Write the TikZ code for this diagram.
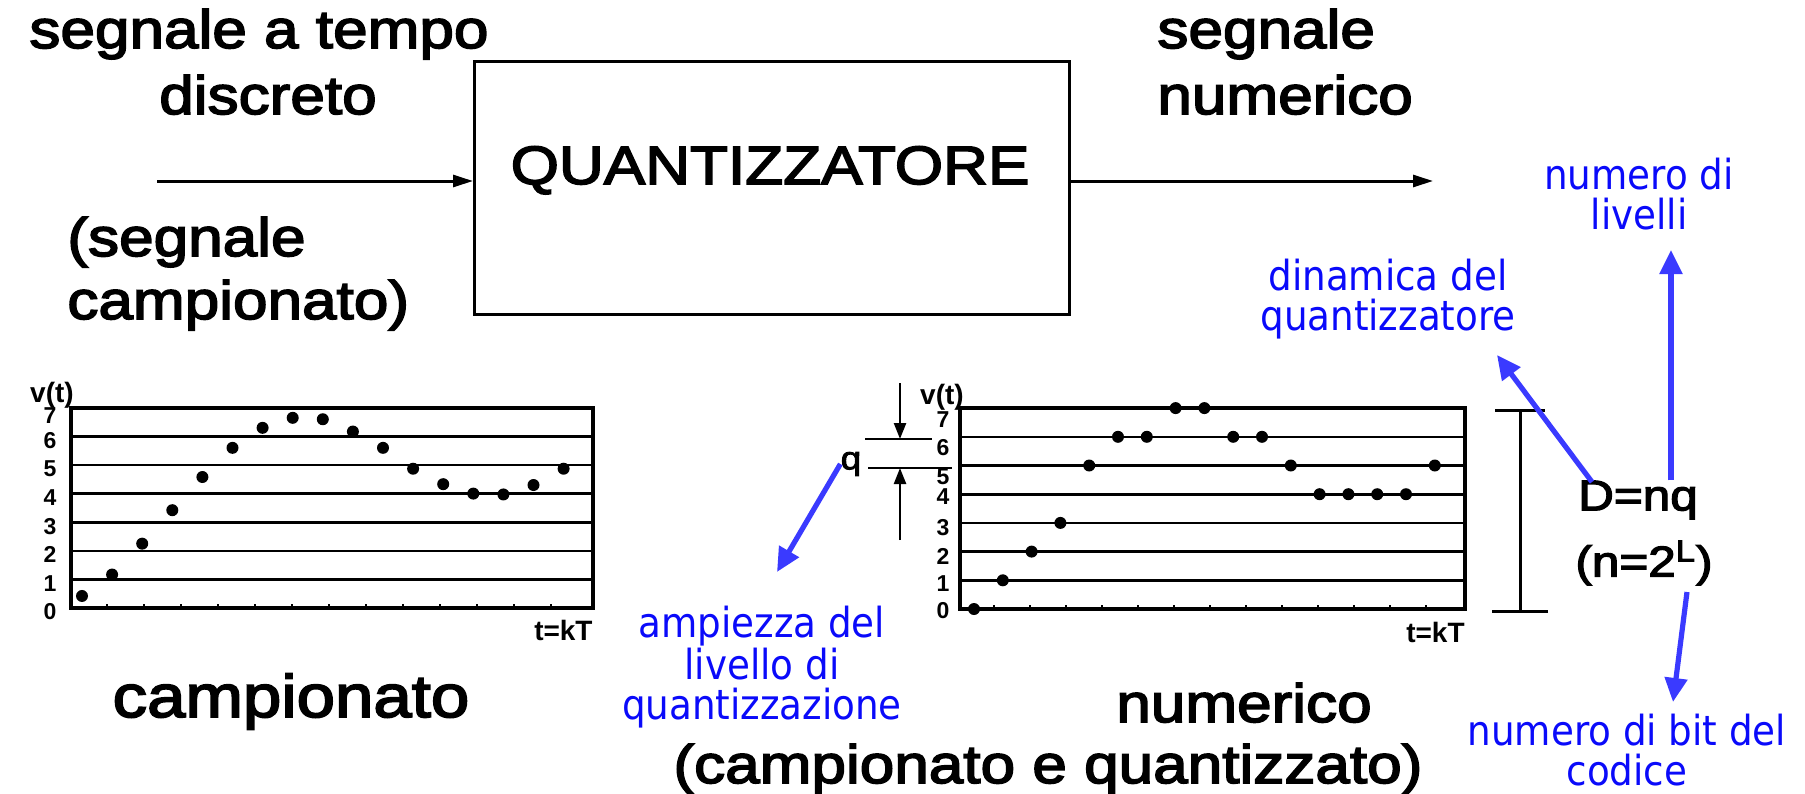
\documentclass[tikz,border=0pt]{standalone}
\usepackage{fontspec}
\setmainfont{Liberation Sans}
\newfontfamily\scanfont[FakeBold=3, FakeStretch=1.15]{Liberation Sans}
\newfontfamily\notefont{DejaVu Sans Condensed}
\usetikzlibrary{arrows.meta, positioning}

\definecolor{noteblue}{RGB}{10,10,250}
\definecolor{pointblue}{RGB}{58,58,255}

\begin{document}
\begin{tikzpicture}[x=0.5pt, y=-0.5pt,
    big/.style={font=\fontsize{27}{30}\selectfont\scanfont, inner sep=0pt},
    mid/.style={font=\fontsize{21.5}{24}\selectfont\scanfont, inner sep=0pt},
    axislbl/.style={font=\fontsize{14}{16}\selectfont\bfseries, inner sep=0pt},
    digit/.style={font=\fontsize{11.5}{13}\selectfont\bfseries, inner sep=0pt},
    note/.style={font=\fontsize{20.7}{20}\selectfont\notefont, text=noteblue, align=center, inner sep=0pt},
    sample/.style={circle, fill=black, inner sep=0pt, minimum size=6pt},
    gridline/.style={line width=1.3pt},
    axis/.style={line width=2.2pt},
    feed/.style={line width=1.5pt, -{Triangle[length=10pt, width=6pt]}},
    qarrow/.style={line width=1.2pt, -{Triangle[length=8pt, width=6pt]}},
    pointer/.style={pointblue, line width=2.6pt, -{Triangle[length=12pt, width=11pt]}}
]
\useasboundingbox (0,0) rectangle (1805,793);

% block with input and output
\node[draw, line width=1.5pt, minimum width=297.5pt, minimum height=126.5pt, inner sep=0pt] (quant) at (772,188) {};
\node[big, anchor=base] (quantlbl) at (770,184) {QUANTIZZATORE};
\coordinate (src) at (157,181);
\coordinate (dst) at (1433,181);
\draw[feed] (src) -- (src -| quant.west);
\draw[feed] (dst -| quant.east) -- (dst);

\node[big, anchor=base west] (intitle) at (29,48) {segnale a tempo};
\node[big, anchor=base] (indisc) at (268,114) {discreto};
\node[big, anchor=base west] (innote) at (67,256) {(segnale};
\node[big, anchor=base west] (innote2) at (67,319) {campionato)};
\node[big, anchor=base west] (outtitle) at (1157,48) {segnale};
\node[big, anchor=base west] (outnum) at (1157,114) {numerico};

% sampled signal
\begin{scope}[shift={(71,608)}]
  \foreach \k in {1,...,6} \draw[gridline] (0,-28.6*\k) -- (522,-28.6*\k);
  \draw[axis] (0,0) rectangle (522,-200);
  \foreach \x in {36,73,...,500} \draw[line width=1pt] (\x,0) -- (\x,-4);
  \foreach \k in {0,...,6} \node[digit] (ly\k) at (-21,-28.6*\k+4) {\k};
  \node[digit] (ly7) at (-21,-192) {7};
  \node[axislbl] (lv) at (-19,-213) {v(t)};
  \foreach \v [count=\i from 0] in {0.42,1.17,2.25,3.42,4.58,5.6,6.3,6.65,6.6,6.17,5.6,4.87,4.33,4.0,3.97,4.3,4.87}
    \node[sample] (ls\i) at (11+30.1*\i,-28.6*\v) {};
  \node[axislbl, anchor=north east] (lt) at (522,12) {t=kT};
\end{scope}
\node[big, font=\fontsize{30}{32}\selectfont\scanfont, anchor=base] (lcap) at (291,717) {campionato};

% quantized signal
\begin{scope}[shift={(960,609)}]
  \foreach \k in {1,...,6} \draw[gridline] (0,-28.7*\k) -- (505,-28.7*\k);
  \draw[axis] (0,0) rectangle (505,-201);
  \foreach \x in {34,70,...,490} \draw[line width=1pt] (\x,0) -- (\x,-4);
  \foreach \k/\y in {7/-189,6/-161,5/-132,4/-112,3/-81,2/-53,1/-25,0/2}
    \node[digit] (ry\k) at (-17,\y) {\k};
  \node[axislbl] (rv) at (-18,-212) {v(t)};
  \foreach \v [count=\i from 0] in {0,1,2,3,5,6,6,7,7,6,6,5,4,4,4,4,5}
    \node[sample] (rs\i) at (14+28.8*\i,-28.7*\v) {};
  \node[axislbl, anchor=north east] (rt) at (505,13) {t=kT};
\end{scope}
\node[big, anchor=base] (rcap) at (1244,722) {numerico};
\node[big, anchor=base] (rcap2) at (1048,783) {(campionato e quantizzato)};

% quantization step
\coordinate (qhi) at (900,439);
\coordinate (qlo) at (900,468);
\coordinate (qabove) at (900,383);
\coordinate (qbelow) at (900,540);
\draw[line width=1pt] (865,439) -- (932,439);
\draw[line width=1pt] (868,468) -- (952,468);
\draw[qarrow] (qabove) -- (qhi);
\draw[qarrow] (qbelow) -- (qlo);
\node[mid, font=\fontsize{16}{18}\selectfont\scanfont] (qsym) at (851,464) {q};

% dynamic range
\coordinate (dtop) at (1520,409);
\coordinate (dbot) at (1520,613);
\draw[line width=1.5pt, {Bar[width=25pt]}-{Bar[width=28pt]}] (dtop) -- (dbot);
\node[mid] (dnq) at (1638,500) {D=nq};
\node[mid] (nrel) at (1644,563) {(n=2\textsuperscript{L})};

% blue notes
\node[note, anchor=north] (levels) at (1639,158) {numero di\\livelli};
\node[note, anchor=north] (dyn) at (1388,259) {dinamica del\\quantizzatore};
\node[note, anchor=north] (amp) at (762,606) {ampiezza del\\livello di\\quantizzazione};
\node[note, anchor=north] (bits) at (1627,714) {numero di bit del\\codice};

\coordinate (levtip) at (1671,250);
\coordinate (dynfoot) at (1592,482);
\coordinate (dyntip) at (1497,355);
\coordinate (amptip) at (777,572);
\coordinate (bitsfoot) at (1687,592);
\coordinate (bitstip) at (1673,702);
\draw[pointer] (dnq.north -| levtip) -- (levtip);
\draw[pointer] (dynfoot) -- (dyntip);
\draw[pointer] (qsym.west) -- (amptip);
\draw[pointer] (bitsfoot) -- (bitstip);
\end{tikzpicture}
\end{document}
